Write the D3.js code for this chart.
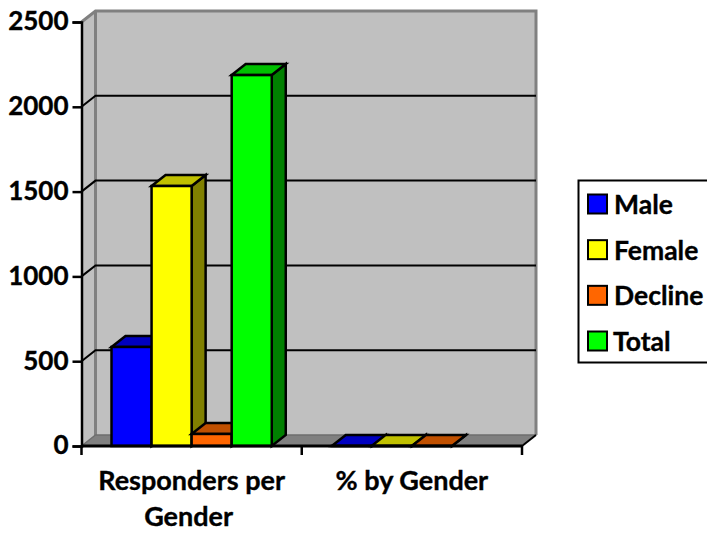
<!DOCTYPE html>
<html>
<head>
<meta charset="utf-8">
<script src="https://cdn.jsdelivr.net/npm/d3@7/dist/d3.min.js"></script>
<style>
html,body{margin:0;padding:0;background:#fff;overflow:hidden}
text{font-family:Lato,"Open Sans",sans-serif;font-weight:700;fill:#000;stroke:#000;stroke-width:0.35px}
</style>
</head>
<body>
<svg id="chart" width="707" height="533"></svg>
<script>
const categories = ["Responders per Gender", "% by Gender"];
const seriesNames = ["Male", "Female", "Decline", "Total"];
const male = [584, 0.27];
const female = [1533, 0.7];
const decline = [71, 0.03];
const total = [2187, null];
const yTicks = [0, 500, 1000, 1500, 2000, 2500];
const frontColors = ["#0000ff", "#ffff00", "#ff6600", "#00ff00"];
const topColors = ["#0000c0", "#c0c000", "#c05000", "#00c000"];
const sideColors = ["#000080", "#808000", "#803300", "#008000"];

const seriesValues = [male, female, decline, total];
const depthX = 14, depthY = 11;
const x0 = 81.5, x1 = 522, yBase = 446, yTop = 22;
const fontSize = 27;

const svg = d3.select("#chart");
const y = d3.scaleLinear().domain([0, 2500]).range([yBase, yTop]);
const xCat = d3.scaleBand().domain(categories).range([x0, x1]);
// Bars fill the band apart from a fixed margin on each side
const barW = (xCat.bandwidth() - 60) / seriesNames.length;
const barX = (c, i) => xCat(c) + 30 + i * barW;

const poly = pts => pts.map(p => p.join(",")).join(" ");

// Walls and floor of the 3D plot box
svg.append("polygon").attr("points", poly([[x0, yTop], [x0 + depthX, yTop - depthY], [x1 + depthX, yTop - depthY], [x1 + depthX, yBase - depthY], [x0 + depthX, yBase - depthY], [x0, yBase]]))
  .attr("fill", "#c0c0c0");
svg.append("polygon").attr("points", poly([[x0, yBase], [x0 + depthX, yBase - depthY], [x1 + depthX, yBase - depthY], [x1, yBase]]))
  .attr("fill", "#808080");
svg.append("path")
  .attr("d", `M${x0},${yTop}L${x0 + depthX},${yTop - depthY}L${x1 + depthX},${yTop - depthY}L${x1 + depthX},${yBase - depthY}`)
  .attr("fill", "none").attr("stroke", "#808080").attr("stroke-width", 3);
svg.append("line").attr("x1", x0 + depthX).attr("x2", x0 + depthX).attr("y1", yTop - depthY).attr("y2", yBase - depthY)
  .attr("stroke", "#808080").attr("stroke-width", 3);
svg.append("path")
  .attr("d", `M${x0},${yBase}L${x0 + depthX},${yBase - depthY}L${x1 + depthX},${yBase - depthY}`)
  .attr("fill", "none").attr("stroke", "#6e6e6e").attr("stroke-width", 1.5);

// Gridlines run along the side wall and across the back wall
svg.append("g").selectAll("path").data(yTicks.filter(t => t > 0 && t < 2500)).join("path")
  .attr("d", t => `M${x0},${y(t)}L${x0 + depthX},${y(t) - depthY}L${x1 + depthX},${y(t) - depthY}`)
  .attr("fill", "none").attr("stroke", "#000").attr("stroke-width", 2);

// Bars, painted left to right so each one overlaps its neighbour's side face
const bars = [];
categories.forEach((c, ci) => seriesNames.forEach((s, si) => {
  const v = seriesValues[si][ci];
  if (v !== null) bars.push({c, si, v});
}));
const barG = svg.append("g").attr("stroke", "#000").attr("stroke-width", 2.5).selectAll("g").data(bars).join("g");
barG.append("polygon")
  .attr("points", d => {
    const l = barX(d.c, d.si) + barW, t = y(d.v);
    return poly([[l, t], [l + depthX, t - depthY], [l + depthX, yBase - depthY], [l, yBase]]);
  })
  .attr("fill", d => sideColors[d.si]);
barG.append("polygon")
  .attr("points", d => {
    const l = barX(d.c, d.si), t = y(d.v);
    return poly([[l, t], [l + depthX, t - depthY], [l + barW + depthX, t - depthY], [l + barW, t]]);
  })
  .attr("fill", d => topColors[d.si]);
barG.append("rect")
  .attr("x", d => barX(d.c, d.si)).attr("y", d => y(d.v))
  .attr("width", barW).attr("height", d => yBase - y(d.v))
  .attr("fill", d => frontColors[d.si]);

// Front axes
const yAxis = d3.axisLeft(y).tickValues(yTicks).tickSize(9).tickPadding(4).tickFormat(d3.format("d"));
const yG = svg.append("g").attr("transform", `translate(${x0},0)`).call(yAxis);
yG.select(".domain").attr("stroke", "#000").attr("stroke-width", 2.5);
yG.selectAll(".tick line").attr("stroke", "#000").attr("stroke-width", 2.5);
yG.selectAll("text").attr("font-size", 26).attr("dy", "0.3em").attr("x", -13);

svg.append("path").attr("d", `M${x0},${yBase}H${x1}`).attr("stroke", "#000").attr("stroke-width", 3);
const xEdges = d3.range(categories.length + 1).map(i => x0 + i * xCat.step());
svg.append("g").selectAll("line").data(xEdges).join("line")
  .attr("x1", d => d).attr("x2", d => d).attr("y1", yBase).attr("y2", yBase + 9)
  .attr("stroke", "#000").attr("stroke-width", 2.5);
svg.append("path").attr("d", `M${x1},${yBase}L${x1 + depthX},${yBase - depthY}`).attr("stroke", "#000").attr("stroke-width", 2);

// Category labels; the long first label wraps onto two lines
const xLines = [["Responders per", "Gender"], ["% by Gender"]];
const xLab = svg.append("g").selectAll("text").data(categories).join("text")
  .attr("text-anchor", "middle").attr("font-size", fontSize)
  .attr("transform", d => `translate(${xCat(d) + xCat.bandwidth() / 2},490)`);
xLab.selectAll("tspan").data((d, i) => xLines[i]).join("tspan")
  .attr("x", (d, i) => i ? -3 : 0).attr("y", (d, i) => i * 36).text(d => d);

// Legend box, which runs off the right edge of the page
const legend = svg.append("g");
legend.append("rect").attr("x", 578.5).attr("y", 180.5).attr("width", 140).attr("height", 182)
  .attr("fill", "#fff").attr("stroke", "#000").attr("stroke-width", 2);
const rowY = d3.scalePoint().domain(seriesNames).range([204, 341]);
const rows = legend.selectAll("g").data(seriesNames).join("g").attr("transform", d => `translate(0,${rowY(d)})`);
rows.append("rect").attr("x", 588).attr("y", -9.5).attr("width", 19).attr("height", 19)
  .attr("fill", (d, i) => frontColors[i]).attr("stroke", "#000").attr("stroke-width", 2);
rows.append("text").attr("x", (d, i) => i === 3 ? 613 : 614).attr("y", 10).attr("font-size", fontSize - 0.5).text(d => d);
</script>
</body>
</html>
